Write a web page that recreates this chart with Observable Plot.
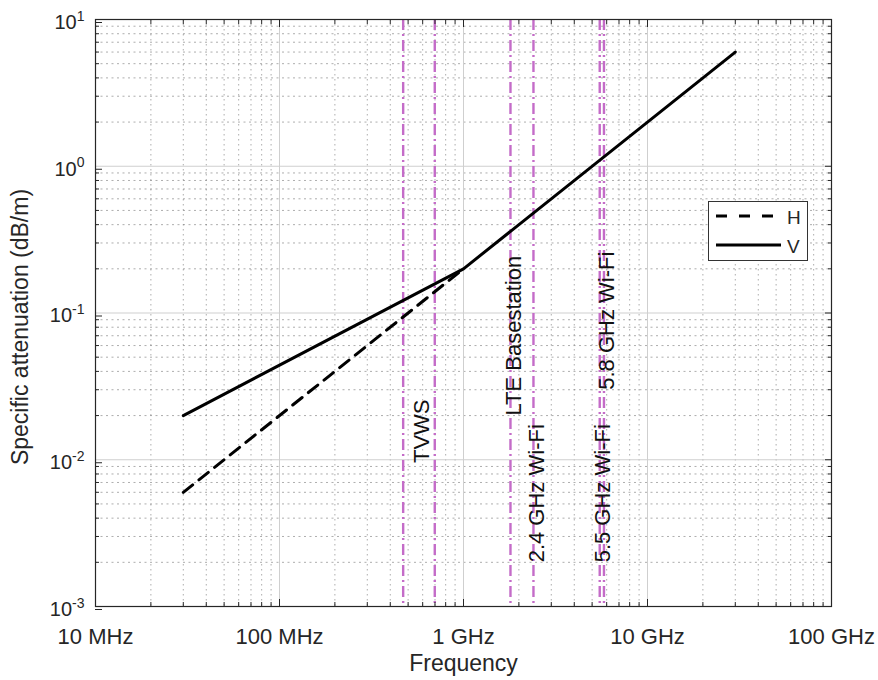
<!DOCTYPE html>
<html><head><meta charset="utf-8">
<script src="https://cdn.jsdelivr.net/npm/d3@7"></script>
<script src="https://cdn.jsdelivr.net/npm/@observablehq/plot@0.6"></script>
<style>
body{margin:0;background:#fff;}
#chart{position:relative;width:878px;height:680px;font-family:"Liberation Sans",Arial,sans-serif;}
#legend{position:absolute;left:708px;top:201px;width:100px;height:60px;box-sizing:border-box;border:1.2px solid #333;background:#fff;}
</style></head><body><div id="chart"></div>
<script>
// ---- data ----
const vFreq = [30e6, 1e9, 30e9];
const vAtten = [0.02, 0.2, 6];
const hFreq = [30e6, 1e9];
const hAtten = [0.006, 0.2];
const bandFreq = [470e6, 698e6, 1.8e9, 2.4e9, 5.5e9, 5.8e9];
const labelText = ["TVWS", "LTE Basestation", "2.4 GHz Wi-Fi", "5.5 GHz Wi-Fi", "5.8 GHz Wi-Fi"];
const labelFreq = [573e6, 1.8e9, 2.4e9, 5.5e9, 5.8e9];
const labelAtten = [0.0095, 0.02, 0.002, 0.002, 0.03];
const xTicks = [1e7, 1e8, 1e9, 1e10, 1e11];
const xTickLabels = ["10 MHz", "100 MHz", "1 GHz", "10 GHz", "100 GHz"];
const yTicks = [1e-3, 1e-2, 1e-1, 1, 10];
const yExponents = ["-3", "-2", "-1", "0", "1"];
const seriesNames = ["H", "V"];

const minorOf = (majors) => majors.slice(0, -1).flatMap(m => d3.range(2, 10).map(k => k * m));
const xMinor = minorOf(xTicks);
const yMinor = minorOf(yTicks);

const hData = hFreq.map((f, i) => ({f, a: hAtten[i], s: seriesNames[0]}));
const vData = vFreq.map((f, i) => ({f, a: vAtten[i], s: seriesNames[1]}));
const labels = labelText.map((t, i) => ({t, f: labelFreq[i], a: labelAtten[i]}));

const tickCol = "#262626";
const chart = Plot.plot({
  width: 878, height: 680,
  marginLeft: 95, marginRight: 47, marginTop: 19, marginBottom: 74,
  style: {fontFamily: '"Liberation Sans", Arial, sans-serif', color: tickCol, background: "#fff"},
  x: {type: "log", domain: [1e7, 1e11]},
  y: {type: "log", domain: [1e-3, 10]},
  marks: [
    Plot.ruleX(xMinor, {stroke: "#777", strokeOpacity: 0.6, strokeDasharray: "1.5,3.5"}),
    Plot.ruleY(yMinor, {stroke: "#777", strokeOpacity: 0.6, strokeDasharray: "2,3.5"}),
    Plot.ruleX(xTicks.slice(1, -1), {stroke: "#cfcfcf", strokeWidth: 1}),
    Plot.ruleY(yTicks.slice(1, -1), {stroke: "#cfcfcf", strokeWidth: 1}),
    Plot.ruleX(bandFreq, {stroke: "#c46cc8", strokeWidth: 2.4, strokeDasharray: "11,4,2,4"}),
    Plot.line(hData, {x: "f", y: "a", stroke: "#000", strokeWidth: 3, strokeDasharray: "12,8"}),
    Plot.line(vData, {x: "f", y: "a", stroke: "#000", strokeWidth: 3}),
    Plot.text(labels, {x: "f", y: "a", text: "t", rotate: -90, textAnchor: "start", lineAnchor: "middle", dx: 3, fontSize: 22, fill: "#111"}),
    Plot.axisX({ticks: xMinor, anchor: "bottom", tickSize: -4, tickFormat: () => "", label: null}),
    Plot.axisX({ticks: xMinor, anchor: "top", tickSize: -4, tickFormat: () => "", label: null}),
    Plot.axisX({ticks: xTicks, anchor: "top", tickSize: -7, tickFormat: () => "", label: null}),
    Plot.axisX({ticks: xTicks, anchor: "bottom", tickSize: -7, tickPadding: 29, fontSize: 22, tickFormat: d => xTickLabels[xTicks.indexOf(d)], label: null}),
    Plot.axisY({ticks: yMinor, anchor: "left", tickSize: -4, tickFormat: () => "", label: null}),
    Plot.axisY({ticks: yMinor, anchor: "right", tickSize: -4, tickFormat: () => "", label: null}),
    Plot.axisY({ticks: yTicks, anchor: "right", tickSize: -7, tickFormat: () => "", label: null}),
    Plot.axisY({ticks: yTicks, anchor: "left", tickSize: -7, tickPadding: 18, dy: 3, fontSize: 20, tickFormat: d => "10^" + yExponents[yTicks.indexOf(d)], label: null}),
    Plot.frame({stroke: tickCol, strokeWidth: 1.2}),
    Plot.text(["Frequency"], {frameAnchor: "bottom", dy: 57, lineAnchor: "middle", fontSize: 23, fill: tickCol}),
    Plot.text(["Specific attenuation (dB/m)"], {frameAnchor: "left", textAnchor: "middle", dx: -75, dy: 14, rotate: -90, lineAnchor: "middle", fontSize: 23, fill: tickCol})
  ]
});

// superscript exponents on the y tick labels
d3.select(chart).selectAll('g[aria-label="y-axis tick label"] text').each(function() {
  const s = this.textContent;
  if (!s.startsWith("10^")) return;
  const exp = s.slice(3);
  this.textContent = "10";
  d3.select(this).append("tspan").attr("dy", "-0.6em").attr("font-size", "0.7em").text(exp);
});

const root = document.getElementById("chart");
root.appendChild(chart);

// legend box inside the plot area
const leg = document.createElement("div");
leg.id = "legend";
leg.innerHTML = `<svg width="100" height="60" style="display:block;font-family:'Liberation Sans',Arial,sans-serif">
  <line x1="7" x2="72" y1="14" y2="14" stroke="#000" stroke-width="3.2" stroke-dasharray="11,12"/>
  <text x="78" y="15" dy="0.35em" font-size="19" fill="#262626">${seriesNames[0]}</text>
  <line x1="7" x2="72" y1="43" y2="43" stroke="#000" stroke-width="3.2"/>
  <text x="78" y="44" dy="0.35em" font-size="19" fill="#262626">${seriesNames[1]}</text>
</svg>`;
root.appendChild(leg);
</script></body></html>
